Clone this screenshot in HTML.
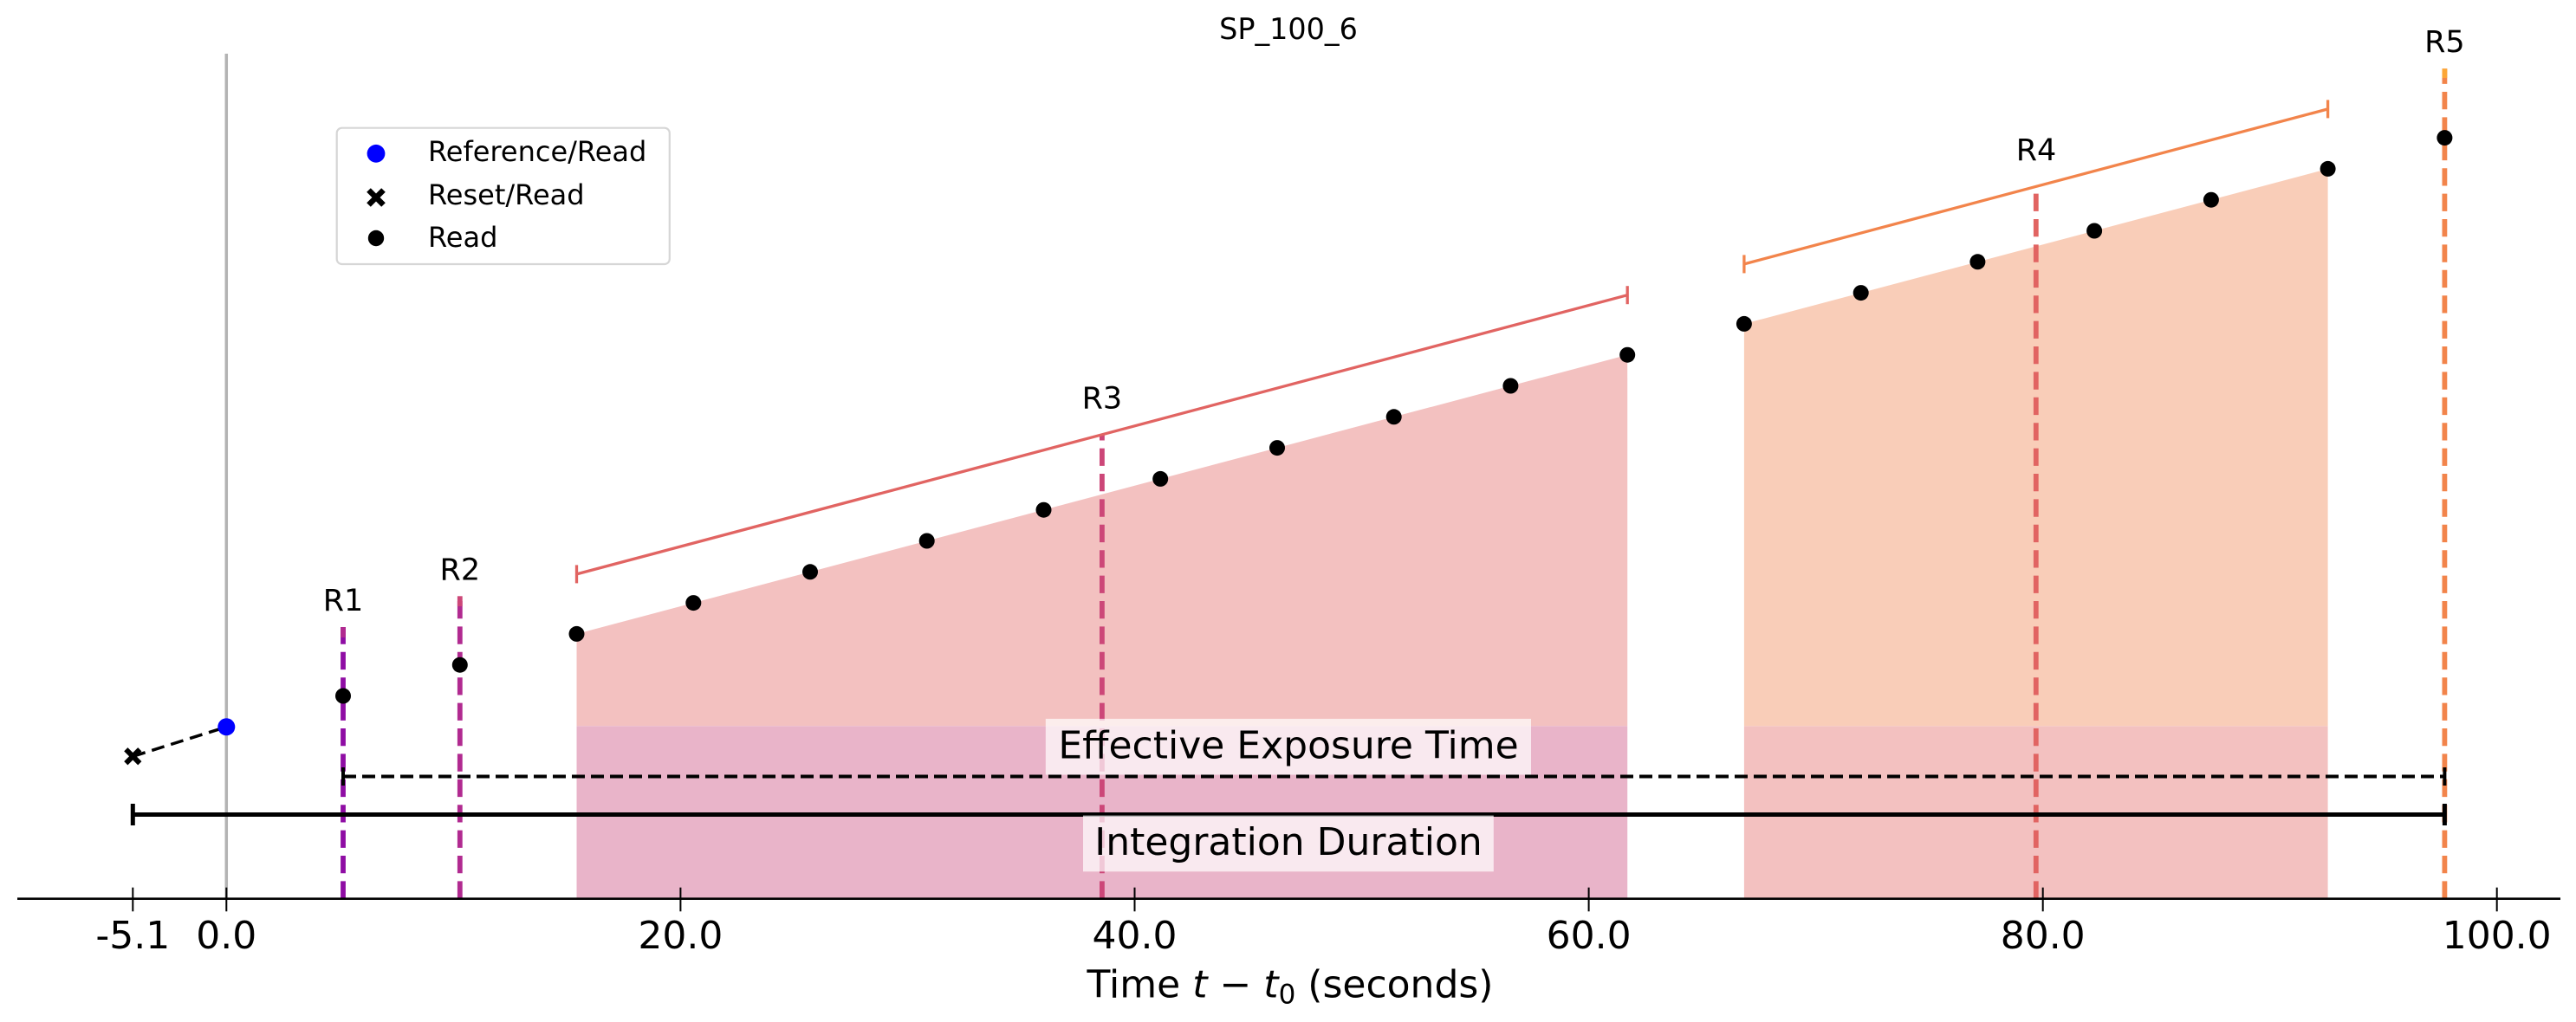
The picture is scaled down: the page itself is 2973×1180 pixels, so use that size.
<!DOCTYPE html>
<html><head><meta charset="utf-8"><style>
html,body{margin:0;padding:0;background:#fff;}
svg{display:block;}
text{font-family:"DejaVu Sans","Liberation Sans",sans-serif;fill:#000;}
</style></head><body>
<svg width="2973" height="1180" viewBox="0 0 2973 1180" xmlns="http://www.w3.org/2000/svg">
<rect width="2973" height="1180" fill="#fff"/>
<!-- fills -->
<polygon points="665.5,731.9 1878.2,409.7 1878.2,838.3 665.5,838.3" fill="#f3c1c0"/>
<rect x="665.5" y="838.3" width="1212.7" height="199.4" fill="#e9b4c9"/>
<polygon points="2012.9,373.9 2686.6,194.9 2686.6,838.3 2012.9,838.3" fill="#f9cdb8"/>
<rect x="2012.9" y="838.3" width="673.7" height="199.4" fill="#f3c1c0"/>
<!-- gray t0 line -->
<line x1="261.3" y1="62" x2="261.3" y2="1037.7" stroke="#b3b3b3" stroke-width="3.5"/>
<!-- vertical dashed read lines -->
<g stroke-width="5.8" stroke-dasharray="20.3 9.1" fill="none">
<line x1="396" y1="1037.7" x2="396" y2="724" stroke="#8f0da4"/>
<line x1="530.8" y1="1037.7" x2="530.8" y2="688.3" stroke="#b12a90"/>
<line x1="1271.9" y1="1037.7" x2="1271.9" y2="501" stroke="#cc4778"/>
<line x1="2349.8" y1="1037.7" x2="2349.8" y2="221.7" stroke="#e16462"/>
<line x1="2821.4" y1="1037.7" x2="2821.4" y2="79.3" stroke="#f2844b"/>
</g>
<g stroke-width="5.8">
<line x1="396" y1="724" x2="396" y2="736" stroke="#b12a90"/>
<line x1="530.8" y1="688.3" x2="530.8" y2="700" stroke="#cc4778"/>
<line x1="2821.4" y1="79.3" x2="2821.4" y2="90" stroke="#fca636"/>
</g>
<!-- brackets -->
<g stroke="#e16462" stroke-width="3.3">
<line x1="665.5" y1="662.9" x2="1878.2" y2="340.7"/>
<line x1="665.5" y1="652.4" x2="665.5" y2="673.4"/>
<line x1="1878.2" y1="330.2" x2="1878.2" y2="351.2"/>
</g>
<g stroke="#f2844b" stroke-width="3.3">
<line x1="2012.9" y1="304.9" x2="2686.6" y2="125.9"/>
<line x1="2012.9" y1="294.4" x2="2012.9" y2="315.4"/>
<line x1="2686.6" y1="115.4" x2="2686.6" y2="136.4"/>
</g>
<!-- reset to reference dashed -->
<line x1="153.3" y1="873.3" x2="261.3" y2="839.3" stroke="#000" stroke-width="3.5" stroke-dasharray="15 8"/>
<!-- exposure / integration lines -->
<line x1="396" y1="896.5" x2="2821.4" y2="896.5" stroke="#000" stroke-width="4" stroke-dasharray="15 7"/>
<line x1="396" y1="886" x2="396" y2="907" stroke="#000" stroke-width="4"/>
<line x1="2821.4" y1="886" x2="2821.4" y2="907" stroke="#000" stroke-width="4"/>
<line x1="153.3" y1="940.5" x2="2821.4" y2="940.5" stroke="#000" stroke-width="5"/>
<line x1="153.3" y1="928" x2="153.3" y2="953" stroke="#000" stroke-width="5"/>
<line x1="2821.4" y1="928" x2="2821.4" y2="953" stroke="#000" stroke-width="5"/>
<!-- text boxes -->
<rect x="1206.8" y="829.9" width="560.2" height="64.6" fill="#fff" fill-opacity="0.7"/>
<text x="1487" y="875.4" font-size="44" text-anchor="middle">Effective Exposure Time</text>
<rect x="1250" y="941.6" width="473.8" height="64.7" fill="#fff" fill-opacity="0.7"/>
<text x="1487" y="987.2" font-size="44" text-anchor="middle">Integration Duration</text>
<!-- markers -->
<g stroke="#000" stroke-width="6" stroke-linecap="butt">
<line x1="145.3" y1="865.3" x2="161.3" y2="881.3"/>
<line x1="161.3" y1="865.3" x2="145.3" y2="881.3"/>
</g>
<circle cx="261.3" cy="839.3" r="10" fill="#0000ff"/>
<g fill="#000">
<circle cx="396" cy="803.5" r="9"/>
<circle cx="530.8" cy="767.7" r="9"/>
<circle cx="665.5" cy="731.9" r="9"/>
<circle cx="800.3" cy="696.1" r="9"/>
<circle cx="935" cy="660.3" r="9"/>
<circle cx="1069.7" cy="624.5" r="9"/>
<circle cx="1204.5" cy="588.7" r="9"/>
<circle cx="1339.2" cy="552.9" r="9"/>
<circle cx="1474" cy="517.1" r="9"/>
<circle cx="1608.7" cy="481.3" r="9"/>
<circle cx="1743.4" cy="445.5" r="9"/>
<circle cx="1878.2" cy="409.7" r="9"/>
<circle cx="2012.9" cy="373.9" r="9"/>
<circle cx="2147.7" cy="338.1" r="9"/>
<circle cx="2282.4" cy="302.3" r="9"/>
<circle cx="2417.1" cy="266.5" r="9"/>
<circle cx="2551.9" cy="230.7" r="9"/>
<circle cx="2686.6" cy="194.9" r="9"/>
<circle cx="2821.4" cy="159.1" r="9"/>
</g>
<!-- R labels -->
<g font-size="35" text-anchor="middle">
<text x="396" y="705">R1</text>
<text x="530.8" y="669.3">R2</text>
<text x="1271.9" y="471.7">R3</text>
<text x="2350" y="185">R4</text>
<text x="2821.4" y="60">R5</text>
</g>
<!-- title -->
<text x="1487" y="45" font-size="33.4" text-anchor="middle">SP_100_6</text>
<!-- legend -->
<rect x="388.7" y="147.7" width="384.1" height="157.3" rx="6" ry="6" fill="#fff" fill-opacity="0.8" stroke="#d6d6d6" stroke-width="2.2"/>
<circle cx="434" cy="177.3" r="10.4" fill="#0000ff"/>
<g stroke="#000" stroke-width="6.5">
<line x1="425.5" y1="219.5" x2="442.5" y2="236.5"/>
<line x1="442.5" y1="219.5" x2="425.5" y2="236.5"/>
</g>
<circle cx="434" cy="275" r="9.2" fill="#000"/>
<g font-size="32">
<text x="494" y="186">Reference/Read</text>
<text x="494" y="236">Reset/Read</text>
<text x="494" y="285">Read</text>
</g>
<!-- x axis -->
<line x1="20" y1="1037.7" x2="2955" y2="1037.7" stroke="#000" stroke-width="2.7"/>
<g stroke="#000" stroke-width="2">
<line x1="153.3" y1="1024.7" x2="153.3" y2="1052.3"/>
<line x1="261.3" y1="1024.7" x2="261.3" y2="1052.3"/>
<line x1="785.4" y1="1024.7" x2="785.4" y2="1052.3"/>
<line x1="1309.5" y1="1024.7" x2="1309.5" y2="1052.3"/>
<line x1="1833.6" y1="1024.7" x2="1833.6" y2="1052.3"/>
<line x1="2357.7" y1="1024.7" x2="2357.7" y2="1052.3"/>
<line x1="2881.7" y1="1024.7" x2="2881.7" y2="1052.3"/>
</g>
<g font-size="44" text-anchor="middle">
<text x="153.3" y="1095">-5.1</text>
<text x="261.3" y="1095">0.0</text>
<text x="785.4" y="1095">20.0</text>
<text x="1309.5" y="1095">40.0</text>
<text x="1833.6" y="1095">60.0</text>
<text x="2357.7" y="1095">80.0</text>
<text x="2881.7" y="1095">100.0</text>
</g>
<text x="1489" y="1151.7" font-size="44" text-anchor="middle">Time <tspan font-style="italic">t</tspan> − <tspan font-style="italic">t</tspan><tspan font-size="31" dy="7">0</tspan><tspan dy="-7"> (seconds)</tspan></text>
</svg>
</body></html>
